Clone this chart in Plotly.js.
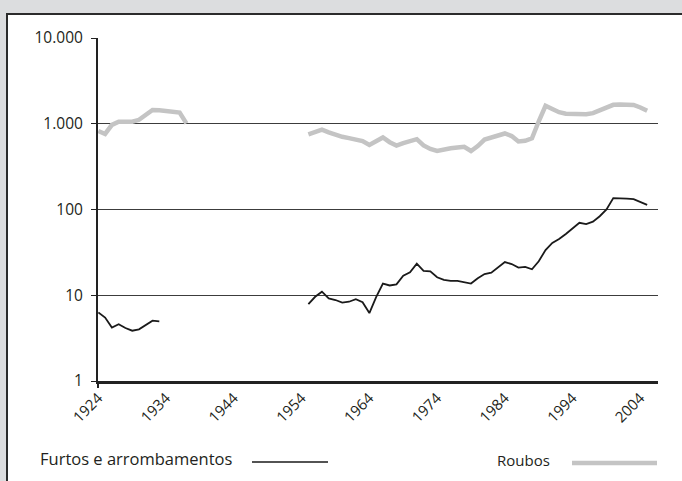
<!DOCTYPE html>
<html>
<head>
<meta charset="utf-8">
<script src="https://cdn.plot.ly/plotly-3.0.1.min.js"></script>
<style>
  html, body { margin:0; padding:0; width:682px; height:481px; overflow:hidden; background:#dcdddf; }
  #box { position:absolute; left:6px; top:13px; width:700px; height:500px; background:#ffffff; border:2px solid #2b2b2b; box-sizing:border-box; }
  #chart { position:absolute; left:0; top:0; width:682px; height:481px; }
</style>
</head>
<body>
<div id="box"></div>
<div id="chart"></div>
<script>
// Years 1924..1937 (early period) and 1955..2005 (later period)
const yearsEarly = [1924,1925,1926,1927,1928,1929,1930,1931,1932,1933,1934,1935,1936,1937];
const furtosEarly = [6.3,5.5,4.2,4.6,4.15,3.86,4.0,4.5,5.05,4.97,null,null,null,null];
const roubosEarly = [823,760,970,1057,1057,1057,1112,1282,1446,1440,1419,1390,1353,1010];

const yearsLate = [1955,1956,1957,1958,1959,1960,1961,1962,1963,1964,1965,1966,1967,1968,1969,
  1970,1971,1972,1973,1974,1975,1976,1977,1978,1979,1980,1981,1982,1983,1984,1985,1986,1987,
  1988,1989,1990,1991,1992,1993,1994,1995,1996,1997,1998,1999,2000,2001,2002,2003,2004,2005];
const furtosLate = [7.9,9.6,11.0,9.2,8.8,8.2,8.4,9.0,8.3,6.2,9.5,13.7,13.0,13.4,16.9,
  18.5,23.4,19.2,19.0,16.2,15.1,14.7,14.7,14.1,13.7,15.8,17.7,18.3,21.0,24.4,23.1,21.0,21.4,
  20.1,24.9,33.7,40.8,45.3,51.9,60.4,70.0,67.4,72.1,83.4,100,136,136,134,132,122,113];
const roubosLate = [753,814,855,793,741,704,680,655,629,565,632,691,609,557,595,
  629,661,559,508,481,502,517,528,539,481,550,655,691,730,770,719,621,632,
  676,1069,1620,1486,1364,1306,1289,1289,1289,1331,1446,1560,1663,1679,1656,1656,1548,1420];

const yTickVals = [1,10,100,1000,10000];
const yTickText = ['1','10','100','1.000','10.000'];
const xTickVals = [1924,1934,1944,1954,1964,1974,1984,1994,2004];
const seriesNames = ['Furtos e arrombamentos','Roubos'];

const FONT = 'Open Sans, Noto Sans, sans-serif';
const BLACK = '#1a1a1a';
const GREY = '#c4c4c4';
const TXT = '#231f20';

const traces = [
  {x: yearsEarly, y: roubosEarly, mode:'lines', line:{color:GREY, width:4.5}, connectgaps:false, hoverinfo:'skip', name: seriesNames[1]},
  {x: yearsLate, y: roubosLate, mode:'lines', line:{color:GREY, width:4.5}, hoverinfo:'skip', name: seriesNames[1]},
  {x: yearsEarly, y: furtosEarly, mode:'lines', line:{color:BLACK, width:1.8}, connectgaps:false, hoverinfo:'skip', name: seriesNames[0]},
  {x: yearsLate, y: furtosLate, mode:'lines', line:{color:BLACK, width:1.8}, hoverinfo:'skip', name: seriesNames[0]}
];

const L = 98, R = 658, T = 38, B = 381;
const W = R - L, H = B - T;
const px = v => (v - L) / W;
const py = v => (B - v) / H;

const layout = {
  width: 682, height: 481,
  margin: {l: L, r: 682 - R, t: T, b: 481 - B, pad: 0},
  paper_bgcolor: 'rgba(0,0,0,0)',
  plot_bgcolor: 'rgba(0,0,0,0)',
  showlegend: false,
  font: {family: FONT, size: 15, color: TXT},
  xaxis: {
    type: 'linear', range: [1923.95, 2006.6],
    tickvals: xTickVals, ticktext: xTickVals.map(String),
    tickangle: -45, ticks: '', showgrid: false, zeroline: false,
    showline: true, linecolor: '#222', linewidth: 2.5,
    tickfont: {family: FONT, size: 15, color: TXT}
  },
  yaxis: {
    type: 'log', range: [0, 4],
    tickvals: yTickVals, ticktext: yTickText,
    ticks: 'outside', ticklen: 5, tickcolor: '#222', tickwidth: 1,
    ticklabelstandoff: 5,
    showgrid: true, gridcolor: '#3c3c3c', gridwidth: 1,
    zeroline: false, showline: true, linecolor: '#222', linewidth: 2,
    tickfont: {family: FONT, size: 15.5, color: TXT}
  },
  shapes: [
    {type:'line', xref:'paper', yref:'paper', x0:0, x1:0, y0:0, y1:-7/H, line:{color:'#222', width:2}},
    {type:'line', xref:'paper', yref:'paper', x0:px(252), x1:px(328), y0:py(462), y1:py(462), line:{color:BLACK, width:1.6}},
    {type:'line', xref:'paper', yref:'paper', x0:px(572), x1:px(657), y0:py(463), y1:py(463), line:{color:GREY, width:4.5}}
  ],
  annotations: [
    {text: seriesNames[0], xref:'paper', yref:'paper', x:px(38), y:py(459), xanchor:'left', yanchor:'middle', showarrow:false, font:{family:FONT, size:16.5, color:TXT}},
    {text: seriesNames[1], xref:'paper', yref:'paper', x:px(495), y:py(460), xanchor:'left', yanchor:'middle', showarrow:false, font:{family:FONT, size:15, color:TXT}}
  ]
};

Plotly.newPlot('chart', traces, layout, {staticPlot: true, displayModeBar: false});
</script>
</body>
</html>
